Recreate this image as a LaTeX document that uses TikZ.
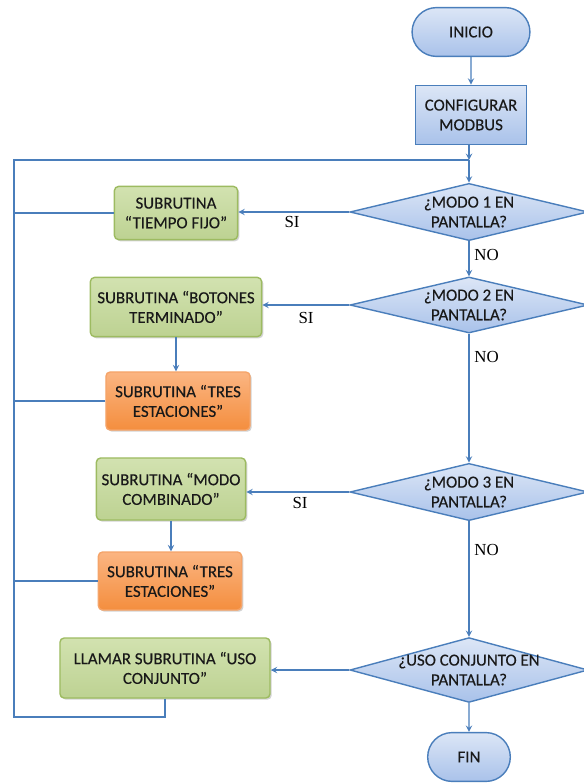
\documentclass[tikz,border=0pt]{standalone}
\usepackage{fontspec}
\setmainfont{Carlito}
\newfontfamily\cajafont{Carlito}[AutoFakeBold=0.3]
\newfontfamily\labfont{Liberation Serif}
\usetikzlibrary{shapes.geometric,shapes.misc,shadows,scopes}
\definecolor{linea}{HTML}{4A7EBB}
\definecolor{azulA}{HTML}{DCE6F6}
\definecolor{azulB}{HTML}{A9C2EA}
\definecolor{verdeA}{HTML}{D2E2B0}
\definecolor{verdeB}{HTML}{BDD292}
\definecolor{verdeL}{HTML}{9DBB61}
\definecolor{naranjaA}{HTML}{FBB582}
\definecolor{naranjaB}{HTML}{F48E3E}
\definecolor{naranjaL}{HTML}{F5A469}

\begin{document}
\begin{tikzpicture}[x=0.025cm,y=-0.025cm,line width=1pt,>=stealth,
    every node/.style={font=\cajafont\bfseries\fontsize{12}{14}\selectfont,align=center,text=black!90},
    term/.style={rounded rectangle,draw=linea,top color=azulA,bottom color=azulB,minimum height=1.22cm},
    proc/.style={rectangle,draw=linea,top color=azulA,bottom color=azulB,minimum width=2.78cm,minimum height=1.48cm},
    pregunta/.style={diamond,aspect=3,draw=linea,top color=azulA,bottom color=azulB,
        inner xsep=-30pt,inner ysep=-12pt,minimum width=5.95cm},
    sub/.style={rectangle,rounded corners=3pt,draw=verdeL,top color=verdeA,bottom color=verdeB,
        drop shadow={shadow xshift=1.2pt,shadow yshift=-1.2pt,opacity=0.35}},
    tres/.style={rectangle,rounded corners=3pt,draw=naranjaL,top color=naranjaA,bottom color=naranjaB,
        drop shadow={shadow xshift=1.2pt,shadow yshift=-1.2pt,opacity=0.35}},
    flujo/.style={draw=linea},
    etq/.style={font=\labfont\fontsize{12}{14}\selectfont,text=black}]
    \useasboundingbox (0,0) rectangle (584,783);

    % columna principal
    \node[term,minimum width=3.18cm] (inicio) at (471,32) {INICIO};
    \node[proc] (config) at (471,115) {CONFIGURAR\\MODBUS};
    \node[pregunta,minimum height=1.43cm] (d1) at (469,212) {¿MODO 1 EN\\PANTALLA?};
    \node[pregunta,minimum height=1.40cm] (d2) at (469,305) {¿MODO 2 EN\\PANTALLA?};
    \node[pregunta,minimum height=1.43cm] (d3) at (469,492) {¿MODO 3 EN\\PANTALLA?};
    \node[pregunta,minimum height=1.62cm] (d4) at (469,670) {¿USO CONJUNTO EN\\PANTALLA?};
    \node[term,minimum width=2.3cm] (fin) at (469,757) {FIN};

    % subrutinas
    \node[sub,minimum width=3.08cm,minimum height=1.33cm] (g1) at (176,213) {SUBRUTINA\\“TIEMPO FIJO”};
    \node[sub,minimum width=4.28cm,minimum height=1.48cm] (g2) at (176,307) {SUBRUTINA “BOTONES\\TERMINADO”};
    \node[tres,minimum width=3.6cm,minimum height=1.45cm] (o1) at (178,401) {SUBRUTINA “TRES\\ESTACIONES”};
    \node[sub,minimum width=3.73cm,minimum height=1.55cm] (g3) at (171,489) {SUBRUTINA “MODO\\COMBINADO”};
    \node[tres,minimum width=3.58cm,minimum height=1.45cm] (o2) at (170,581) {SUBRUTINA “TRES\\ESTACIONES”};
    \node[sub,minimum width=5.25cm,minimum height=1.5cm] (g4) at (165,668) {LLAMAR SUBRUTINA “USO\\CONJUNTO”};

    \coordinate (j1) at (469,160);
    \coordinate (lt) at (14,160);
    \coordinate (lb) at (14,717);

    {[flujo,->]
    \draw (inicio) -- (config);
    \draw (config.south -| j1) -- (j1);
    \draw (j1) -- (d1);
    \draw (d1) -- (d2);
    \draw (d2) -- (d3);
    \draw (d3) -- (d4);
    \draw (d4) -- (fin);
    \draw (d1.west) -- (d1.west -| g1.east);
    \draw (d2.west) -- (d2.west -| g2.east);
    \draw (d3.west) -- (d3.west -| g3.east);
    \draw (d4.west) -- (d4.west -| g4.east);
    \draw (g2) -- (g2.south |- o1.north);
    \draw (g3) -- (g3.south |- o2.north);
    }
    % retorno al inicio del ciclo
    {[flujo]
    \draw (g4.south) -- (g4.south |- lb) -- (lb) -- (lt) -- (j1);
    \draw (g1.west) -- (g1.west -| lt);
    \draw (o1.west) -- (o1.west -| lt);
    \draw (o2.west) -- (o2.west -| lt);
    }

    \node[etq] (si1) at (292,222) {SI};
    \node[etq] (si2) at (306,318) {SI};
    \node[etq] (si3) at (300,503) {SI};
    \node[etq,anchor=west] (no1) at (469,255) {NO};
    \node[etq,anchor=west] (no2) at (469,357) {NO};
    \node[etq,anchor=west] (no3) at (469,550) {NO};
\end{tikzpicture}
\end{document}
